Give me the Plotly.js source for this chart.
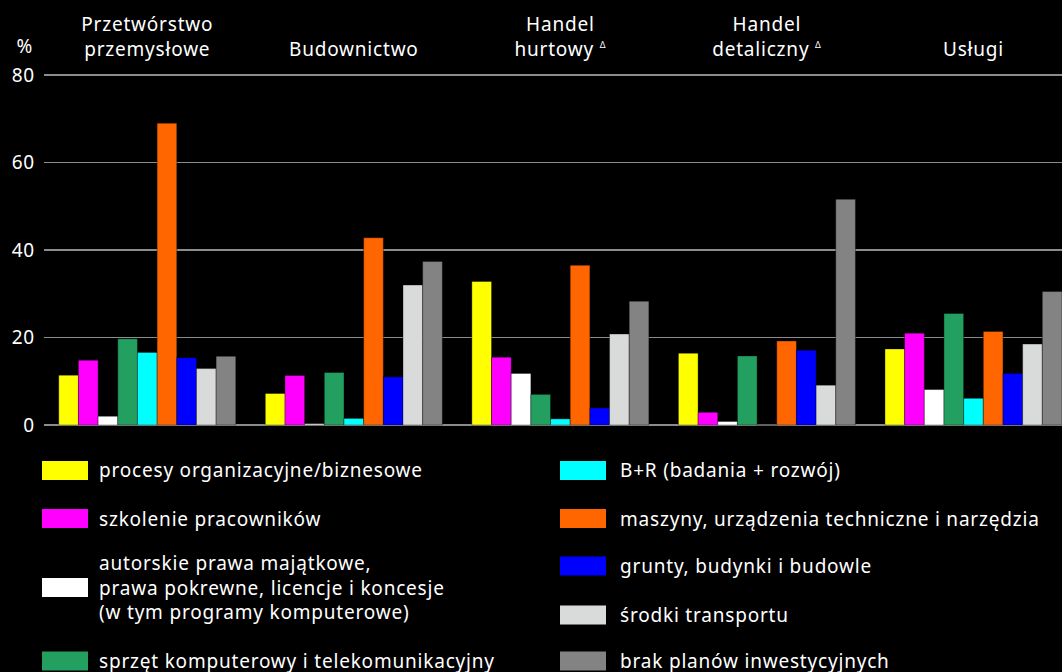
<!DOCTYPE html>
<html>
<head>
<meta charset="utf-8">
<script src="https://cdn.plot.ly/plotly-3.0.1.min.js"></script>
<style>
html,body{margin:0;padding:0;background:#000;}
#chart{width:1062px;height:672px;}
#chart svg text{letter-spacing:0.8px;}
</style>
</head>
<body>
<div id="chart"></div>
<script>
// ---- data ----
const categories = [
  "Przetwórstwo<br>przemysłowe",
  "Budownictwo",
  "Handel<br>hurtowy <sup><span style='font-size:9px'>Δ</span></sup>",
  "Handel<br>detaliczny <sup><span style='font-size:9px'>Δ</span></sup>",
  "Usługi"
];
const seriesNames = [
  "procesy organizacyjne/biznesowe",
  "szkolenie pracowników",
  "autorskie prawa majątkowe,<br>prawa pokrewne, licencje i koncesje<br>(w tym programy komputerowe)",
  "sprzęt komputerowy i telekomunikacyjny",
  "B+R (badania + rozwój)",
  "maszyny, urządzenia techniczne i narzędzia",
  "grunty, budynki i budowle",
  "środki transportu",
  "brak planów inwestycyjnych"
];
const procesy     = [11.4,  7.2, 32.8, 16.4, 17.4];
const szkolenie   = [14.8, 11.3, 15.5,  2.9, 21.0];
const autorskie   = [ 2.0,  0.3, 11.8,  0.8,  8.1];
const sprzet      = [19.7, 12.0,  7.0, 15.8, 25.5];
const bir         = [16.6,  1.5,  1.4,  0.0,  6.1];
const maszyny     = [69.0, 42.8, 36.5, 19.2, 21.4];
const grunty      = [15.4, 11.0,  3.9, 17.1, 11.8];
const transport   = [12.9, 32.0, 20.8,  9.1, 18.5];
const brakPlanow  = [15.7, 37.4, 28.3, 51.6, 30.5];
const seriesValues = [procesy, szkolenie, autorskie, sprzet, bir, maszyny, grunty, transport, brakPlanow];
const yTicks = [0, 20, 40, 60, 80];

// ---- styles ----
const colors = ["#FFFF00", "#FF00FF", "#FFFFFF", "#23A05F", "#00FFFF", "#FF6600", "#0000FF", "#D9DBDA", "#838383"];
const FONT = "Noto Sans";
const W = 1062, H = 672;
const mL = 44, mR = 0, mT = 73, mB = 245;
const plotW = W - mL - mR, plotH = H - mT - mB;
const pxPerUnit = 4.375;
const pad = 2 / pxPerUnit;
const px2x = p => (p - mL) / plotW;
const py2y = p => (H - mB - p) / plotH;

const traces = seriesValues.map((vals, i) => ({
  type: "bar",
  name: seriesNames[i],
  x: categories,
  y: vals,
  marker: {color: colors[i], line: {color: "rgba(0,0,0,0.35)", width: 1}},
  showlegend: false,
  hoverinfo: "y"
}));

// custom two-column legend
const legendLeft = [0, 1, 2, 3];
const legendRight = [4, 5, 6, 7, 8];
const leftY = [470.5, 518.5, 587.5, 661];
const rightY = [470.5, 518.5, 566, 615, 661];
const shapes = [], annotations = [];
function addItem(idx, sx, tx, cy) {
  shapes.push({type: "rect", xref: "paper", yref: "paper",
    x0: px2x(sx), x1: px2x(sx + 46), y0: py2y(cy - 9.5), y1: py2y(cy + 9.5),
    fillcolor: colors[idx], line: {width: 0}});
  annotations.push({xref: "paper", yref: "paper", x: px2x(tx), y: py2y(cy),
    xanchor: "left", yanchor: "middle", align: "left", showarrow: false,
    text: seriesNames[idx], font: {family: FONT, size: 19, color: "#FFFFFF"}});
}
legendLeft.forEach((s, k) => addItem(s, 42, 97, leftY[k]));
legendRight.forEach((s, k) => addItem(s, 560, 618, rightY[k]));

annotations.push({xref: "paper", yref: "paper", x: px2x(24.5), y: py2y(46),
  xanchor: "center", yanchor: "middle", showarrow: false, text: "%",
  font: {family: FONT, size: 19, color: "#FFFFFF"}});

const layout = {
  width: W, height: H,
  paper_bgcolor: "#000000", plot_bgcolor: "#000000",
  margin: {l: mL, r: mR, t: mT, b: mB, pad: 0},
  barmode: "group", bargap: 0.143, bargroupgap: 0,
  font: {family: FONT, size: 19, color: "#FFFFFF"},
  xaxis: {type: "category", side: "top", range: [-0.5, 4.4286],
    showgrid: false, zeroline: false, showline: false, ticks: "", ticklabelstandoff: 12,
    tickfont: {family: FONT, size: 19, color: "#FFFFFF"}, fixedrange: true},
  yaxis: {range: [-pad, 80 + pad], tickvals: yTicks, ticktext: yTicks.map(String),
    showgrid: true, gridcolor: "#8C8C8C", gridwidth: 1.5,
    zeroline: false, showline: false, ticks: "", ticklabelstandoff: 8,
    tickfont: {family: FONT, size: 19, color: "#FFFFFF"}, fixedrange: true},
  shapes: shapes,
  annotations: annotations,
  showlegend: false
};

Plotly.newPlot("chart", traces, layout, {displayModeBar: false, staticPlot: true});
</script>
</body>
</html>
